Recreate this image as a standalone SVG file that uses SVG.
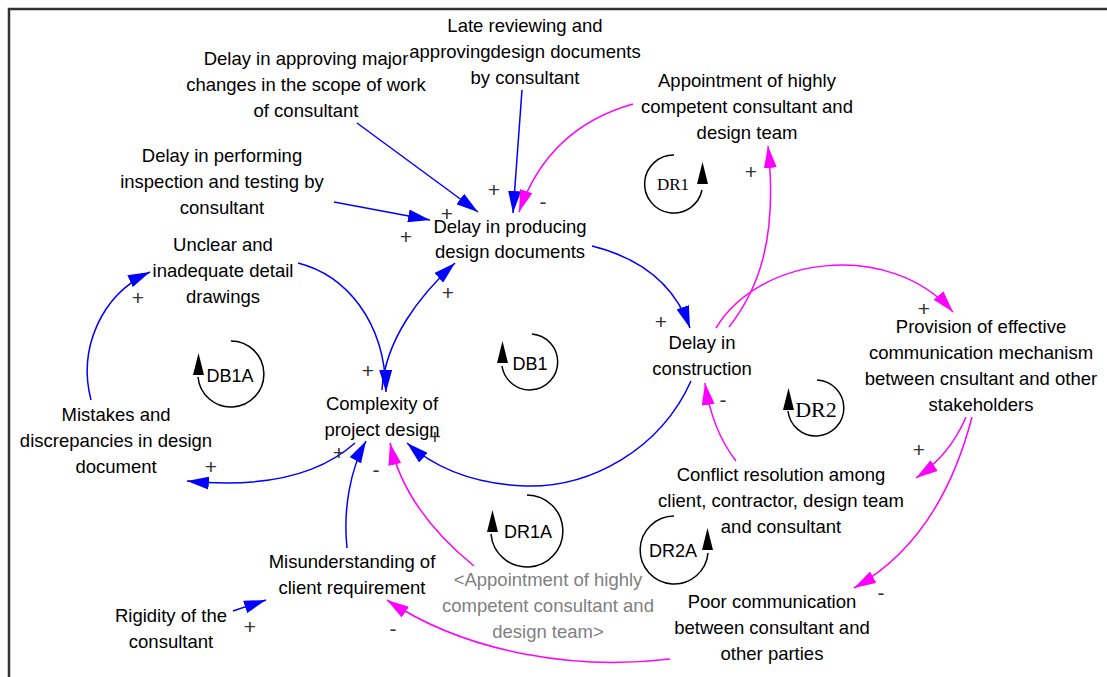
<svg xmlns="http://www.w3.org/2000/svg" width="1107" height="677" viewBox="0 0 1107 677">
<style>
.t{font-family:"Liberation Sans",Arial,sans-serif;font-size:18.5px;fill:#000;text-anchor:middle}
.g{fill:#808080}
.s{font-family:"Liberation Sans",Arial,sans-serif;font-size:21px;fill:#333;text-anchor:middle}
.lp{font-family:"Liberation Sans",Arial,sans-serif;font-size:18px;fill:#000;text-anchor:middle}
.ls{font-family:"Liberation Serif","Times New Roman",serif;fill:#000;text-anchor:middle}
.b{fill:none;stroke:#0000ff;stroke-width:1.5}
.m{fill:none;stroke:#ff00ff;stroke-width:1.5}
.la{fill:none;stroke:#000;stroke-width:1.5}
</style>
<defs>
<marker id="ab" viewBox="0 0 22 13" refX="22" refY="6.5" markerWidth="22" markerHeight="13" markerUnits="userSpaceOnUse" orient="auto"><path d="M0,0L22,6.5L0,13z" fill="#0000ff"/></marker>
<marker id="am" viewBox="0 0 22 13" refX="22" refY="6.5" markerWidth="22" markerHeight="13" markerUnits="userSpaceOnUse" orient="auto"><path d="M0,0L22,6.5L0,13z" fill="#ff00ff"/></marker>
</defs>
<rect width="1107" height="677" fill="#fff"/>
<path d="M9,677V9H1107" fill="none" stroke="#333" stroke-width="2.5"/>

<g id="connectors">
<path class="b" d="M357,123 L478,212" marker-end="url(#ab)"/>
<path class="b" d="M522,90 L513,213" marker-end="url(#ab)"/>
<path class="m" d="M633,104 Q548,128 519,212" marker-end="url(#am)"/>
<path class="b" d="M334,202 L430,220" marker-end="url(#ab)"/>
<path class="b" d="M382,390 C385,340 420,295 455,263" marker-end="url(#ab)"/>
<path class="b" d="M298,263 C345,275 385,320 386,392" marker-end="url(#ab)"/>
<path class="b" d="M592,246 Q668,265 690,328" marker-end="url(#ab)"/>
<path class="b" d="M691,381 C660,450 590,488 525,486 C475,484 435,468 407,443" marker-end="url(#ab)"/>
<path class="b" d="M355,443 Q300,492 187,481" marker-end="url(#ab)"/>
<path class="b" d="M91,400 C78,350 100,295 150,272" marker-end="url(#ab)"/>
<path class="b" d="M347,548 C343,510 350,470 366,441" marker-end="url(#ab)"/>
<path class="b" d="M233,611 L266,600" marker-end="url(#ab)"/>
<path class="m" d="M474,566 Q405,510 390,443" marker-end="url(#am)"/>
<path class="m" d="M729,327 C758,290 778,240 768,146" marker-end="url(#am)"/>
<path class="m" d="M716,328 C760,255 890,240 953,312" marker-end="url(#am)"/>
<path class="m" d="M736,461 Q712,430 705,383" marker-end="url(#am)"/>
<path class="m" d="M966,417 Q950,455 916,478" marker-end="url(#am)"/>
<path class="m" d="M972,417 Q940,540 854,588" marker-end="url(#am)"/>
<path class="m" d="M670,659 C580,670 470,655 387,600" marker-end="url(#am)"/>
</g>

<g id="polarities">
<text class="s" x="494" y="197">+</text>
<text class="s" x="543" y="209">-</text>
<text class="s" x="447" y="221">+</text>
<text class="s" x="406" y="244">+</text>
<text class="s" x="448" y="300">+</text>
<text class="s" x="751" y="179">+</text>
<text class="s" x="924" y="316">+</text>
<text class="s" x="661" y="329">+</text>
<text class="s" x="723" y="407">-</text>
<text class="s" x="919" y="457">+</text>
<text class="s" x="881" y="600">-</text>
<text class="s" x="376" y="477">-</text>
<text class="s" x="339" y="460">+</text>
<text class="s" x="211" y="474">+</text>
<text class="s" x="138" y="305">+</text>
<text class="s" x="368" y="378">+</text>
<text class="s" x="435" y="444">+</text>
<text class="s" x="250" y="634">+</text>
<text class="s" x="393" y="636">-</text>
</g>

<g id="n-late-reviewing"><text class="t" x="525" y="32">Late reviewing and</text><text class="t" x="525" y="58">approvingdesign documents</text><text class="t" x="525" y="84">by consultant</text></g>
<g id="n-delay-approving"><text class="t" x="306" y="65">Delay in approving major</text><text class="t" x="306" y="91">changes in the scope of work</text><text class="t" x="306" y="117">of consultant</text></g>
<g id="n-delay-inspection"><text class="t" x="222" y="162">Delay in performing</text><text class="t" x="222" y="188">inspection and testing by</text><text class="t" x="222" y="214">consultant</text></g>
<g id="n-appointment"><text class="t" x="747" y="87">Appointment of highly</text><text class="t" x="747" y="113">competent consultant and</text><text class="t" x="747" y="139">design team</text></g>
<g id="n-delay-producing"><text class="t" x="510" y="233">Delay in producing</text><text class="t" x="510" y="258">design documents</text></g>
<g id="n-unclear"><text class="t" x="223" y="251">Unclear and</text><text class="t" x="223" y="277">inadequate detail</text><text class="t" x="223" y="303">drawings</text></g>
<g id="n-provision"><text class="t" x="981" y="333">Provision of effective</text><text class="t" x="981" y="359">communication mechanism</text><text class="t" x="981" y="385">between cnsultant and other</text><text class="t" x="981" y="411">stakeholders</text></g>
<g id="n-delay-construction"><text class="t" x="702" y="349">Delay in</text><text class="t" x="702" y="375">construction</text></g>
<g id="n-complexity"><text class="t" x="382" y="410">Complexity of</text><text class="t" x="382" y="436">project design</text></g>
<g id="n-mistakes"><text class="t" x="116" y="421">Mistakes and</text><text class="t" x="116" y="447">discrepancies in design</text><text class="t" x="116" y="473">document</text></g>
<g id="n-conflict"><text class="t" x="781" y="481">Conflict resolution among</text><text class="t" x="781" y="507">client, contractor, design team</text><text class="t" x="781" y="533">and consultant</text></g>
<g id="n-misunderstanding"><text class="t" x="352" y="568">Misunderstanding of</text><text class="t" x="352" y="594">client requirement</text></g>
<g id="n-appointment-shadow"><text class="t g" x="548" y="586">&lt;Appointment of highly</text><text class="t g" x="548" y="612">competent consultant and</text><text class="t g" x="548" y="638">design team&gt;</text></g>
<g id="n-poor-communication"><text class="t" x="772" y="608">Poor communication</text><text class="t" x="772" y="634">between consultant and</text><text class="t" x="772" y="660">other parties</text></g>
<g id="n-rigidity"><text class="t" x="171" y="622">Rigidity of the</text><text class="t" x="171" y="648">consultant</text></g>

<g id="loop-DR1"><path class="la" d="M674,155 A29,29 0 1 0 702,190"/><path d="M697,184L708,184L702.5,162z"/><text class="ls" x="673" y="190" font-size="17">DR1</text></g>
<g id="loop-DB1"><path class="la" d="M532,334 A28,28 0 1 1 502,366"/><path d="M497,363L508,363L502.5,341z"/><text class="lp" x="530" y="370">DB1</text></g>
<g id="loop-DB1A"><path class="la" d="M231,341 A33,33 0 1 1 198,377"/><path d="M193,375L204,375L198.5,353z"/><text class="lp" x="230" y="382">DB1A</text></g>
<g id="loop-DR2"><path class="la" d="M817,380 A28,28 0 1 1 788,411"/><path d="M783,410L794,410L788.5,388z"/><text class="ls" x="816" y="417" font-size="22">DR2</text></g>
<g id="loop-DR1A"><path class="la" d="M527,495 A36,36 0 1 1 491,534"/><path d="M487,532L498,532L492.5,510z"/><text class="lp" x="528" y="538">DR1A</text></g>
<g id="loop-DR2A"><path class="la" d="M674,516 A34,34 0 1 0 708,553"/><path d="M702,550L713,550L707.5,528z"/><text class="lp" x="673" y="557">DR2A</text></g>
</svg>
